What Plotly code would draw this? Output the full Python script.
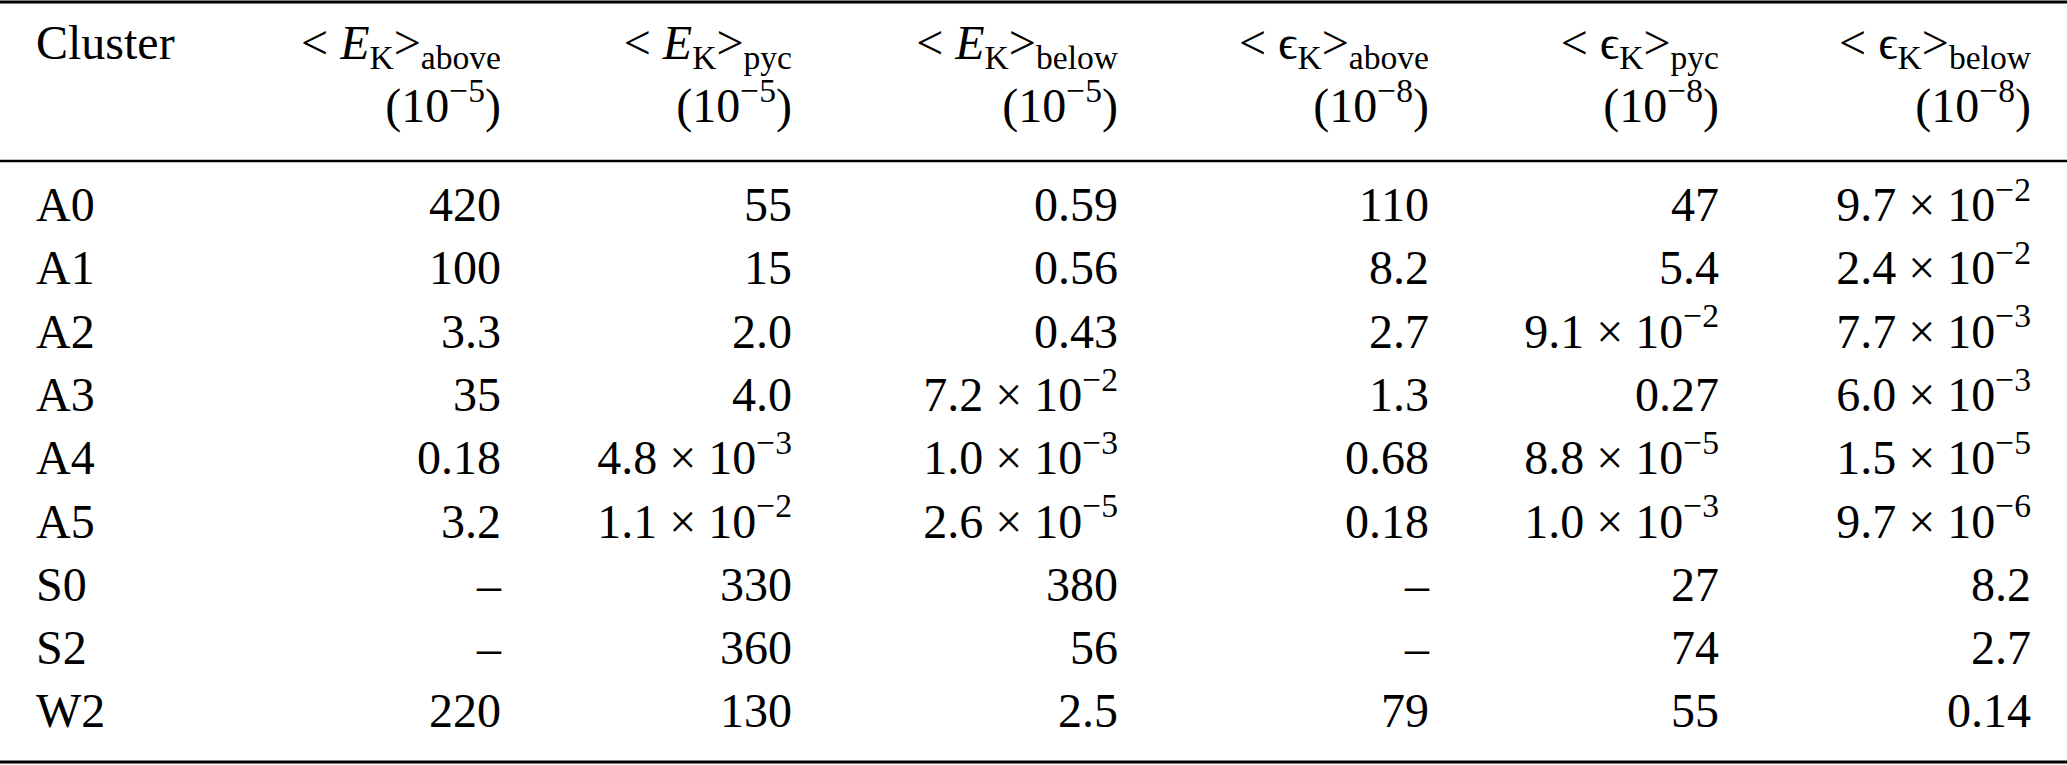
import math
import plotly.graph_objects as go

# ---------------- data ----------------
clusters = ["A0", "A1", "A2", "A3", "A4", "A5", "S0", "S2", "W2"]
ek_above = [420, 100, 3.3, 35, 0.18, 3.2, None, None, 220]
ek_pyc = [55, 15, 2.0, 4.0, 4.8e-3, 1.1e-2, 330, 360, 130]
ek_below = [0.59, 0.56, 0.43, 7.2e-2, 1.0e-3, 2.6e-5, 380, 56, 2.5]
eps_above = [110, 8.2, 2.7, 1.3, 0.68, 0.18, None, None, 79]
eps_pyc = [47, 5.4, 9.1e-2, 0.27, 8.8e-5, 1.0e-3, 27, 74, 55]
eps_below = [9.7e-2, 2.4e-2, 7.7e-3, 6.0e-3, 1.5e-5, 9.7e-6, 8.2, 2.7, 0.14]

first_header = "Cluster"
header_names = [
    "&lt; <i>E</i><sub>K</sub>&gt;<sub>above</sub>",
    "&lt; <i>E</i><sub>K</sub>&gt;<sub>pyc</sub>",
    "&lt; <i>E</i><sub>K</sub>&gt;<sub>below</sub>",
    "&lt; \u03f5<sub>K</sub>&gt;<sub>above</sub>",
    "&lt; \u03f5<sub>K</sub>&gt;<sub>pyc</sub>",
    "&lt; \u03f5<sub>K</sub>&gt;<sub>below</sub>",
]
header_units = ["(10<sup>\u22125</sup>)"] * 3 + ["(10<sup>\u22128</sup>)"] * 3

columns = [ek_above, ek_pyc, ek_below, eps_above, eps_pyc, eps_below]

# ---------------- layout constants ----------------
W, H = 2067, 765
FONT = "Liberation Serif, Times New Roman, DejaVu Serif, serif"
FS = 48
LABEL_X = 36
COL_RIGHT = [501, 792, 1118, 1429, 1719, 2031]
HEAD_Y1, HEAD_Y2 = 47, 110
ROW_TOP, ROW_STEP = 209, 63.3
RULES = [(2, 3), (161, 2.5), (762, 3)]


def fmt(v):
    if v is None:
        return "\u2013"
    if v >= 0.1:
        dec = max(0, 1 - math.floor(math.log10(v)))
        return f"{v:.{dec}f}"
    e = math.floor(math.log10(v))
    m = round(v / 10 ** e, 1)
    if m >= 10:
        m /= 10
        e += 1
    return f"{m:.1f} \u00d7 10<sup>\u2212{-e}</sup>"


row_y = [ROW_TOP + i * ROW_STEP for i in range(len(clusters))]
txtfont = dict(family=FONT, size=FS, color="black")

fig = go.Figure()

# header
fig.add_trace(go.Scatter(x=[LABEL_X], y=[HEAD_Y1], text=[first_header], mode="text",
                         textposition="middle right", textfont=txtfont, hoverinfo="skip"))
fig.add_trace(go.Scatter(x=COL_RIGHT, y=[HEAD_Y1] * len(COL_RIGHT), text=header_names,
                         mode="text", textposition="middle left", textfont=txtfont,
                         hoverinfo="skip"))
fig.add_trace(go.Scatter(x=COL_RIGHT, y=[HEAD_Y2] * len(COL_RIGHT), text=header_units,
                         mode="text", textposition="middle left", textfont=txtfont,
                         hoverinfo="skip"))

# body
fig.add_trace(go.Scatter(x=[LABEL_X] * len(clusters), y=row_y, text=clusters, mode="text",
                         textposition="middle right", textfont=txtfont, hoverinfo="skip"))
for xr, col in zip(COL_RIGHT, columns):
    fig.add_trace(go.Scatter(x=[xr] * len(col), y=row_y, text=[fmt(v) for v in col],
                             mode="text", textposition="middle left", textfont=txtfont,
                             hoverinfo="skip"))

for yy, lw in RULES:
    fig.add_shape(type="line", xref="paper", x0=0, x1=1, yref="y", y0=yy, y1=yy,
                  line=dict(color="black", width=lw))

fig.update_layout(
    width=W, height=H, margin=dict(l=0, r=0, t=0, b=0),
    paper_bgcolor="white", plot_bgcolor="white", showlegend=False,
    xaxis=dict(range=[0, W], visible=False, fixedrange=True),
    yaxis=dict(range=[H, 0], visible=False, fixedrange=True),
)

fig.write_html("out.html", config={"displayModeBar": False},
               post_script="document.body.style.margin='0';document.body.style.overflow='hidden';")
